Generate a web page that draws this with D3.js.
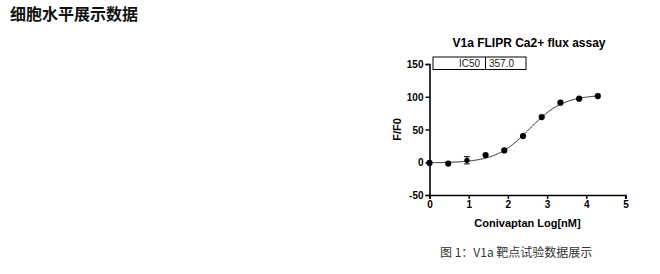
<!DOCTYPE html>
<html>
<head>
<meta charset="utf-8">
<script src="https://cdn.jsdelivr.net/npm/d3@7"></script>
<style>
  body { margin: 0; background: #fff; }
  svg { display: block; }
</style>
</head>
<body>
<svg width="660" height="274"></svg>
<script>
// data (3-fold dilution series, log10 nM)
const logDose = [0, 0.477, 0.954, 1.431, 1.908, 2.386, 2.863, 3.340, 3.817, 4.294];
const response = [-1, -2, 3, 11, 18, 40, 69, 91, 97, 101];
const errBar = [0, 0, 5.5, 0, 0, 0, 0, 0, 0, 0];
const xTicks = [0, 1, 2, 3, 4, 5];
const yTicks = [-50, 0, 50, 100, 150];
// fitted 4PL params (IC50 shown in the box)
const ic50 = 357.0;
const fitBottom = -1, fitTop = 103, hill = 1;

const svg = d3.select('svg');

// page heading + caption
svg.append('text')
  .attr('x', 10).attr('y', 20)
  .attr('font-family', '"Noto Sans CJK SC", sans-serif')
  .attr('font-weight', 'bold').attr('font-size', 16)
  .attr('fill', '#111')
  .text('细胞水平展示数据');

svg.append('text')
  .attr('x', 440).attr('y', 257)
  .attr('font-family', '"Noto Sans CJK SC", sans-serif')
  .attr('font-size', 12).attr('fill', '#333')
  .text('图 1：V1a 靶点试验数据展示');

const x = d3.scaleLinear().domain([0, 5]).range([429.5, 625.5]);
const y = d3.scaleLinear().domain([-50, 150]).range([195, 64]);

const font = 'Arial, "Liberation Sans", sans-serif';

// axes (plain hyphen for negatives, like the original)
const xAxis = svg.append('g')
  .attr('transform', `translate(0,${y(-50)})`)
  .call(d3.axisBottom(x).tickValues(xTicks).tickSize(4).tickPadding(2).tickFormat(d => String(d)));
const yAxis = svg.append('g')
  .attr('transform', `translate(${x(0)},0)`)
  .call(d3.axisLeft(y).tickValues(yTicks).tickSize(4).tickPadding(2).tickFormat(d => String(d)));

[xAxis, yAxis].forEach(a => {
  a.select('.domain').attr('stroke', '#000').attr('stroke-width', 1.6);
  a.selectAll('.tick line').attr('stroke', '#000').attr('stroke-width', 1.4);
  a.selectAll('.tick text')
    .attr('font-family', font).attr('font-weight', 'bold')
    .attr('font-size', 10).attr('fill', '#000');
});
yAxis.selectAll('.tick text').attr('dy', '0.35em');

// titles
svg.append('text')
  .attr('x', 529).attr('y', 47)
  .attr('text-anchor', 'middle')
  .attr('font-family', font).attr('font-weight', 'bold').attr('font-size', 12)
  .text('V1a FLIPR Ca2+ flux assay');

svg.append('text')
  .attr('x', (x(0) + x(5)) / 2).attr('y', 227)
  .attr('text-anchor', 'middle')
  .attr('font-family', font).attr('font-weight', 'bold').attr('font-size', 11)
  .text('Conivaptan Log[nM]');

svg.append('text')
  .attr('transform', `translate(401,${y(50)}) rotate(-90)`)
  .attr('text-anchor', 'middle')
  .attr('font-family', font).attr('font-weight', 'bold').attr('font-size', 11)
  .text('F/F0');

// IC50 table
const box = svg.append('g').attr('font-family', font).attr('font-size', 10).attr('fill', '#222');
box.append('rect')
  .attr('x', 433).attr('y', 57).attr('width', 93).attr('height', 12.5)
  .attr('fill', '#fff').attr('stroke', '#000').attr('stroke-width', 1);
box.append('line')
  .attr('x1', 485.5).attr('x2', 485.5).attr('y1', 57).attr('y2', 69.5)
  .attr('stroke', '#000').attr('stroke-width', 1);
box.append('text').attr('x', 480).attr('y', 67).attr('text-anchor', 'end').text('IC50');
box.append('text').attr('x', 489).attr('y', 67).text(d3.format('.1f')(ic50));

// fitted curve
const logIC50 = Math.log10(ic50);
const curveX = d3.range(0, 4.3001, 0.02);
const line = d3.line()
  .x(d => x(d))
  .y(d => y(fitBottom + (fitTop - fitBottom) / (1 + Math.pow(10, (logIC50 - d) * hill))))
  .curve(d3.curveBasis);
svg.append('path')
  .datum(curveX)
  .attr('d', line)
  .attr('fill', 'none').attr('stroke', '#111').attr('stroke-width', 0.9);

// error bars
const pts = logDose.map((d, i) => ({ x: d, y: response[i], e: errBar[i] }));
const eb = svg.append('g').attr('stroke', '#000').attr('stroke-width', 1);
pts.filter(p => p.e > 0).forEach(p => {
  eb.append('line').attr('x1', x(p.x)).attr('x2', x(p.x)).attr('y1', y(p.y - p.e)).attr('y2', y(p.y + p.e));
  [p.y - p.e, p.y + p.e].forEach(v => {
    eb.append('line').attr('x1', x(p.x) - 3).attr('x2', x(p.x) + 3).attr('y1', y(v)).attr('y2', y(v));
  });
});

// points
svg.append('g').selectAll('circle')
  .data(pts)
  .enter().append('circle')
    .attr('cx', d => x(d.x))
    .attr('cy', d => y(d.y))
    .attr('r', d => d.e > 0 ? 2.6 : 3.1)
    .attr('fill', '#000');
</script>
</body>
</html>
